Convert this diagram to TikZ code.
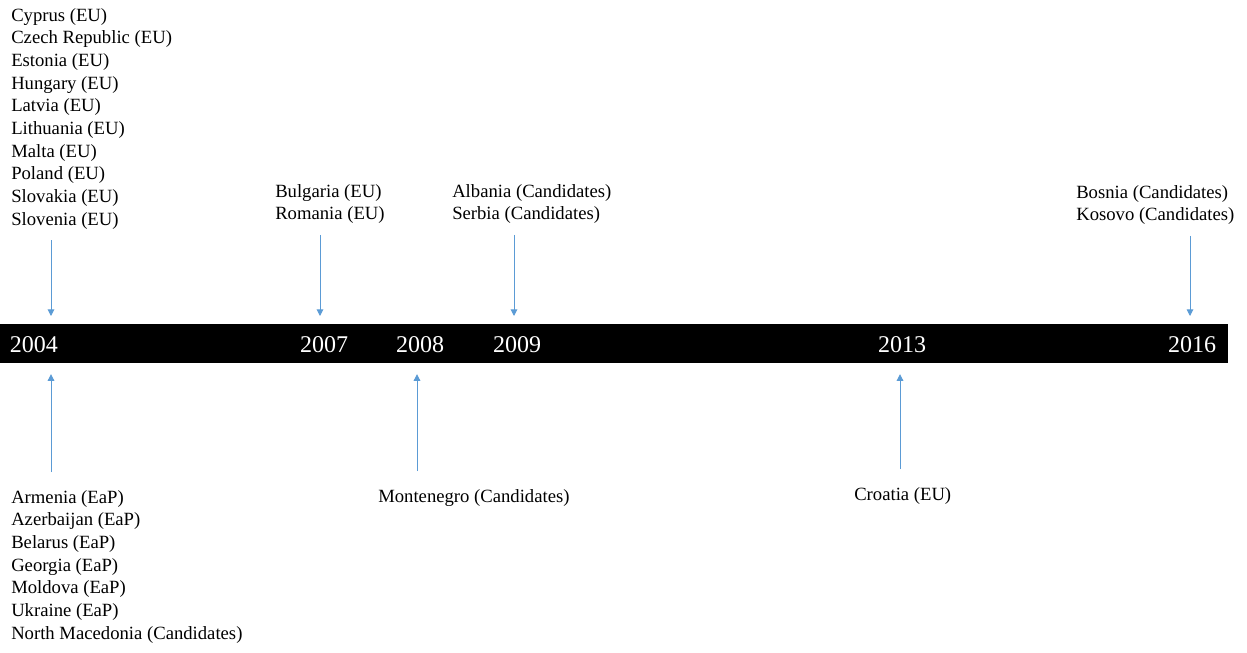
\documentclass[tikz,border=0pt]{standalone}
\usepackage{xcolor}
\usepackage{fontspec}
\setmainfont{Liberation Serif}
\usepackage{tikz}
\usetikzlibrary{arrows.meta, positioning}
\definecolor{arrowblue}{RGB}{91,155,213}
\tikzstyle{countries} = [
    inner sep=0pt, anchor=north west, align=left,
    font=\fontsize{14}{17}\selectfont
]
\tikzstyle{year} = [inner sep=0pt, text=white, font=\fontsize{18}{20}\selectfont]
\tikzstyle{timebar} = [
    rectangle, fill=black, inner sep=0pt, anchor=north west,
    minimum width=921pt, minimum height=29.25pt
]
\tikzstyle{down} = [-{Triangle[width=5pt,length=5pt]}, draw=arrowblue, line width=0.75pt,
    shorten <=8pt, shorten >=6pt]
\tikzstyle{up} = [-{Triangle[width=5pt,length=5pt]}, draw=arrowblue, line width=0.75pt,
    shorten <=13.5pt, shorten >=8pt]

\begin{document}
\begin{tikzpicture}[x=0.75pt, y=-0.75pt]
    \useasboundingbox (0,0) rectangle (1247,653);

    \node [timebar] (bar) at (0,324) {};

    \node [year] (y2004) at (34,345) {2004};
    \node [year] (y2007) at (324,345) {2007};
    \node [year] (y2008) at (420,345) {2008};
    \node [year] (y2009) at (517,345) {2009};
    \node [year] (y2013) at (902,345) {2013};
    \node [year] (y2016) at (1192,345) {2016};

    \node [countries] (eu04) at (11,8) {Cyprus (EU)\\Czech Republic (EU)\\Estonia (EU)\\Hungary (EU)\\Latvia (EU)\\Lithuania (EU)\\Malta (EU)\\Poland (EU)\\Slovakia (EU)\\Slovenia (EU)};
    \node [countries] (eu07) at (275,184) {Bulgaria (EU)\\Romania (EU)};
    \node [countries] (cand09) at (452,184) {Albania (Candidates)\\Serbia (Candidates)};
    \node [countries] (cand16) at (1076,185) {Bosnia (Candidates)\\Kosovo (Candidates)};

    \node [countries] (eap04) at (11,490) {Armenia (EaP)\\Azerbaijan (EaP)\\Belarus (EaP)\\Georgia (EaP)\\Moldova (EaP)\\Ukraine (EaP)\\North Macedonia (Candidates)};
    \node [countries] (cand08) at (378,489) {Montenegro (Candidates)};
    \node [countries] (eu13) at (854,487) {Croatia (EU)};

    \coordinate (d04) at (51,0);
    \coordinate (d07) at (320,0);
    \coordinate (d09) at (514,0);
    \coordinate (d16) at (1190,0);
    \coordinate (u04) at (51,0);
    \coordinate (u08) at (417,0);
    \coordinate (u13) at (900,0);

    \draw [down] (eu04.south -| d04) -- (bar.north -| d04);
    \draw [down] (eu07.south -| d07) -- (bar.north -| d07);
    \draw [down] (cand09.south -| d09) -- (bar.north -| d09);
    \draw [down] (cand16.south -| d16) -- (bar.north -| d16);

    \draw [up] (eap04.north -| u04) -- (bar.south -| u04);
    \draw [up] (cand08.north -| u08) -- (bar.south -| u08);
    \draw [up] (eu13.north -| u13) -- (bar.south -| u13);
\end{tikzpicture}
\end{document}
